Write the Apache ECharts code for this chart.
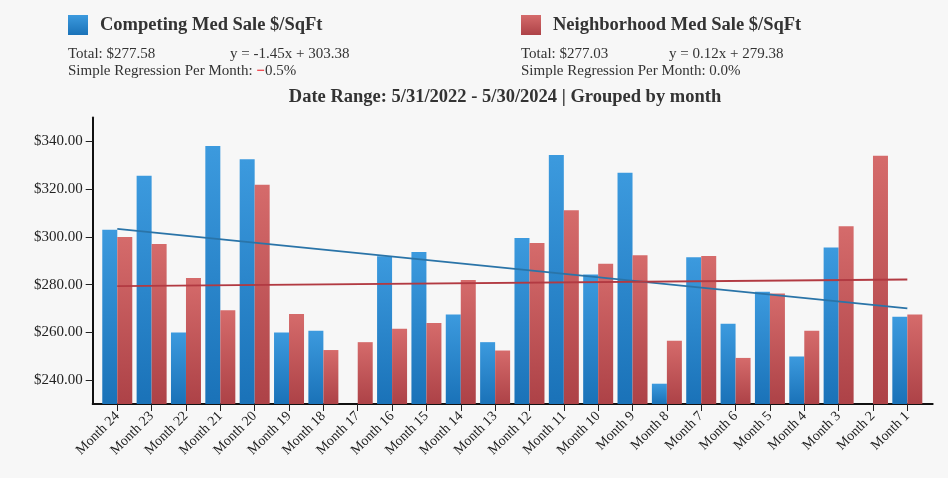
<!DOCTYPE html>
<html>
<head>
<meta charset="utf-8">
<script src="https://cdn.jsdelivr.net/npm/echarts@6/dist/echarts.min.js"></script>
<style>
  html, body { margin: 0; padding: 0; background: #f7f7f7; }
  #chart { width: 948px; height: 478px; }
</style>
</head>
<body>
<div id="chart"></div>
<script>
// Month labels, oldest first
const months = ['Month 24','Month 23','Month 22','Month 21','Month 20','Month 19','Month 18','Month 17',
  'Month 16','Month 15','Month 14','Month 13','Month 12','Month 11','Month 10','Month 9','Month 8',
  'Month 7','Month 6','Month 5','Month 4','Month 3','Month 2','Month 1'];

// Median sale price per square foot, competing listings (null = no sales that month)
const competing = [303.0, 325.6, 260.0, 338.1, 332.5, 260.0, 260.7, null, 291.9, 293.7, 267.5, 255.9,
  299.5, 334.3, 284.2, 326.9, 238.5, 291.5, 263.6, 277.0, 249.9, 295.5, null, 266.5];

// Median sale price per square foot, neighborhood
const neighborhood = [299.9, 297.0, 282.8, 269.3, 321.8, 267.7, 252.6, 255.9, 261.5, 263.9, 281.9, 252.4,
  297.4, 311.1, 288.7, 292.3, 256.5, 292.0, 249.3, 276.3, 260.7, 304.5, 334.0, 267.5];

// Regression line end points (first and last month)
const competingTrend = [303.38, 270.03];
const neighborhoodTrend = [279.38, 282.14];

// Y axis tick values
const yTicks = [240, 260, 280, 300, 320, 340];

const SERIF = '"Liberation Serif", "Times New Roman", serif';
const TXT = '#333';

const blueFill = new echarts.graphic.LinearGradient(0, 0, 0, 1, [
  { offset: 0, color: '#3c9ade' }, { offset: 1, color: '#1a72b8' }
]);
const redFill = new echarts.graphic.LinearGradient(0, 0, 0, 1, [
  { offset: 0, color: '#d56b6b' }, { offset: 1, color: '#ad4247' }
]);

const chart = echarts.init(document.getElementById('chart'), null, { renderer: 'canvas' });

const Y_MIN = 230, Y_MAX = 350;

const statStyle = { fontFamily: SERIF, fontSize: 15, fontWeight: 'normal', color: TXT };

chart.setOption({
  backgroundColor: '#f7f7f7',
  animation: false,
  textStyle: { fontFamily: SERIF },
  title: [
    { text: 'Total: $277.58', left: 63, top: 42, textStyle: statStyle },
    { text: 'y = -1.45x + 303.38', left: 225, top: 42, textStyle: statStyle },
    { text: 'Simple Regression Per Month: {neg|\u2212}{txt|0.5%}', left: 63, top: 59,
      textStyle: Object.assign({}, statStyle, {
        rich: {
          neg: { fontFamily: SERIF, fontSize: 15, color: '#ee1c25', fontWeight: 'bold' },
          txt: { fontFamily: SERIF, fontSize: 15, color: TXT }
        } }) },
    { text: 'Total: $277.03', left: 516, top: 42, textStyle: statStyle },
    { text: 'y = 0.12x + 279.38', left: 664, top: 42, textStyle: statStyle },
    { text: 'Simple Regression Per Month: 0.0%', left: 516, top: 59, textStyle: statStyle },
    { text: 'Date Range: 5/31/2022 - 5/30/2024 | Grouped by month', left: 500, top: 83,
      textAlign: 'center',
      textStyle: { fontFamily: SERIF, fontSize: 18.5, fontWeight: 'bold', color: TXT } }
  ],
  legend: [
    { data: ['Competing Med Sale $/SqFt'], left: 63, top: 10, icon: 'rect',
      itemWidth: 20, itemHeight: 20, selectedMode: false,
      textStyle: { fontFamily: SERIF, fontSize: 18.5, fontWeight: 'bold', color: TXT, padding: [0, 0, 0, 7] } },
    { data: ['Neighborhood Med Sale $/SqFt'], left: 516, top: 10, icon: 'rect',
      itemWidth: 20, itemHeight: 20, selectedMode: false,
      textStyle: { fontFamily: SERIF, fontSize: 18.5, fontWeight: 'bold', color: TXT, padding: [0, 0, 0, 7] } }
  ],
  grid: [
    // frame grid: carries the axis lines and the y labels
    { left: 92.7, right: 15.3, top: 117.5, bottom: 74 },
    // plotting grid: carries the bars and month labels
    { left: 100.1, right: 23.5, top: 117.5, bottom: 74 }
  ],
  xAxis: [
    { type: 'value', gridIndex: 0, min: 0, max: 1,
      axisLine: { show: true, lineStyle: { color: '#111', width: 2 } },
      axisTick: { show: false }, axisLabel: { show: false }, splitLine: { show: false } },
    { type: 'category', gridIndex: 1, data: months, boundaryGap: true,
      axisLine: { show: false },
      axisTick: { show: true, alignWithLabel: true, length: 7, lineStyle: { color: '#222', width: 1 } },
      axisLabel: { rotate: 45, interval: 0, margin: 10, fontFamily: SERIF, fontSize: 14, color: '#222' },
      splitLine: { show: false } }
  ],
  yAxis: [
    { type: 'value', gridIndex: 0, min: Y_MIN, max: Y_MAX,
      axisLine: { show: true, lineStyle: { color: '#111', width: 2 } },
      axisTick: { show: true, length: 7, customValues: yTicks, lineStyle: { color: '#222', width: 1 } },
      axisLabel: { customValues: yTicks, margin: 10, fontFamily: SERIF, fontSize: 15, color: '#222',
        formatter: v => '$' + v.toFixed(2) },
      splitLine: { show: false } },
    { type: 'value', gridIndex: 1, min: Y_MIN, max: Y_MAX, show: false, splitLine: { show: false } }
  ],
  series: [
    { name: 'Competing Med Sale $/SqFt', type: 'bar', xAxisIndex: 1, yAxisIndex: 1,
      data: competing, barWidth: 15, barGap: '0%', itemStyle: { color: blueFill } },
    { name: 'Neighborhood Med Sale $/SqFt', type: 'bar', xAxisIndex: 1, yAxisIndex: 1,
      data: neighborhood, barWidth: 15, barGap: '0%', itemStyle: { color: redFill } },
    { name: 'Competing trend', type: 'line', xAxisIndex: 1, yAxisIndex: 1, symbol: 'none',
      data: [[months[0], competingTrend[0]], [months[months.length - 1], competingTrend[1]]],
      lineStyle: { color: '#2a74a8', width: 1.8 }, z: 5 },
    { name: 'Neighborhood trend', type: 'line', xAxisIndex: 1, yAxisIndex: 1, symbol: 'none',
      data: [[months[0], neighborhoodTrend[0]], [months[months.length - 1], neighborhoodTrend[1]]],
      lineStyle: { color: '#b23a42', width: 1.8 }, z: 5 }
  ]
});
</script>
</body>
</html>
